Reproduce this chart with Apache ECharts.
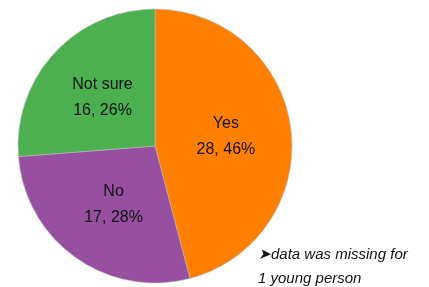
<!DOCTYPE html>
<html>
<head>
<meta charset="utf-8">
<script src="https://cdn.jsdelivr.net/npm/echarts@6/dist/echarts.min.js"></script>
<style>
  html, body { margin: 0; padding: 0; background: #fff; }
  #chart { width: 429px; height: 287px; }
</style>
</head>
<body>
<div id="chart"></div>
<script>
// 数据
var categories = ['Yes', 'No', 'Not sure'];
var counts = [28, 17, 16];
var colors = ['#ff8000', '#974fa0', '#4caf50'];
var noteLines = ['\u27A4data was missing for', '1 young person'];

var total = counts.reduce(function (a, b) { return a + b; }, 0);

var chart = echarts.init(document.getElementById('chart'));

chart.setOption({
  animation: false,
  series: [
    {
      type: 'pie',
      center: [155, 146],
      radius: 137,
      startAngle: 90,
      clockwise: true,
      label: {
        position: 'inside',
        color: '#111',
        fontSize: 16,
        lineHeight: 26,
        fontFamily: 'Liberation Sans Narrow, sans-serif',
        formatter: function (p) {
          return p.name + '\n' + p.value + ', ' + Math.round(p.value / total * 100) + '%';
        }
      },
      itemStyle: {
        borderColor: '#bbb',
        borderWidth: 0.6
      },
      emphasis: { disabled: true },
      data: categories.map(function (name, i) {
        return { name: name, value: counts[i], itemStyle: { color: colors[i] } };
      })
    }
  ],
  graphic: [
    {
      type: 'text',
      left: 258,
      top: 243,
      style: {
        text: noteLines.join('\n'),
        fill: '#111',
        fontSize: 15,
        lineHeight: 24,
        fontStyle: 'italic',
        fontFamily: 'Liberation Sans Narrow, sans-serif'
      }
    }
  ]
});
</script>
</body>
</html>
